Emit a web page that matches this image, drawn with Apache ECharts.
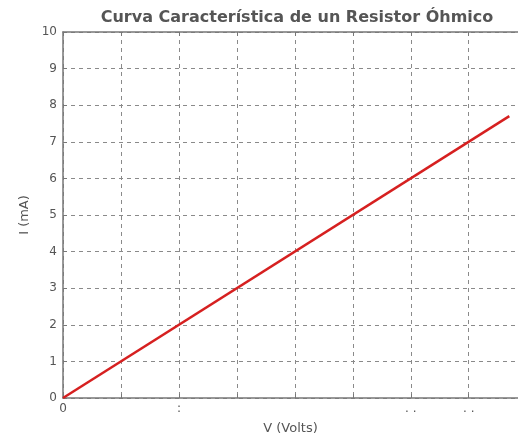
<!DOCTYPE html>
<html>
<head>
<meta charset="utf-8">
<script src="https://cdn.jsdelivr.net/npm/echarts@6/dist/echarts.min.js"></script>
<style>
  html, body { margin: 0; padding: 0; background: #fff; }
  #chart { width: 518px; height: 441px; }
</style>
</head>
<body>
<div id="chart"></div>
<script>
// datos de la curva (V en el eje x, I en el eje y)
const voltage = [0, 7.7]
const current = [0, 7.7]
const xTickLabels = ['0', '', ':', '', '', '', '. .', '. .']
const yTickLabels = ['0', '1', '2', '3', '4', '5', '6', '7', '8', '9', '10']

const chart = echarts.init(document.getElementById('chart'))

const gridLine = { show: true, lineStyle: { color: '#8a8a8a', type: [4, 4], width: 1 } }
const axisLine = { show: true, onZero: false, lineStyle: { color: '#777', width: 1.5 } }
const tick = { show: true, inside: true, length: 4, lineStyle: { color: '#777' } }

const option = {
  animation: false,
  title: {
    text: 'Curva Característica de un Resistor Óhmico',
    left: 292,
    textAlign: 'center',
    top: 5,
    textStyle: { color: '#555', fontSize: 16, fontWeight: 'bold', fontFamily: 'DejaVu Sans' }
  },
  grid: { left: 63, top: 32, right: 0, bottom: 43 },
  xAxis: [
    {
      type: 'value', min: 0, max: 7.85, interval: 1,
      name: 'V (Volts)', nameLocation: 'middle', nameGap: 24,
      nameTextStyle: { color: '#555', fontSize: 13, fontFamily: 'DejaVu Sans' },
      axisLine: axisLine, axisTick: tick, splitLine: gridLine,
      axisLabel: { color: '#555', fontSize: 12, margin: 5, fontFamily: 'DejaVu Sans', showMaxLabel: false,
        formatter: (v) => xTickLabels[Math.round(v)] || '' }
    },
    {
      type: 'value', min: 0, max: 7.85, interval: 1, position: 'top',
      axisLine: axisLine, axisTick: tick, axisLabel: { show: false }, splitLine: { show: false }
    }
  ],
  yAxis: [
    {
      type: 'value', min: 0, max: 10, interval: 1,
      name: 'I (mA)', nameLocation: 'middle', nameGap: 30,
      nameTextStyle: { color: '#555', fontSize: 13, fontFamily: 'DejaVu Sans' },
      axisLine: axisLine, axisTick: tick, splitLine: gridLine,
      axisLabel: { color: '#555', fontSize: 12, margin: 6, fontFamily: 'DejaVu Sans',
        formatter: (v) => yTickLabels[Math.round(v)] }
    }
  ],
  series: [
    {
      type: 'line',
      data: voltage.map((v, i) => [v, current[i]]),
      symbol: 'none',
      lineStyle: { color: '#d62020', width: 2.5 }
    }
  ]
}

chart.setOption(option)
</script>
</body>
</html>
